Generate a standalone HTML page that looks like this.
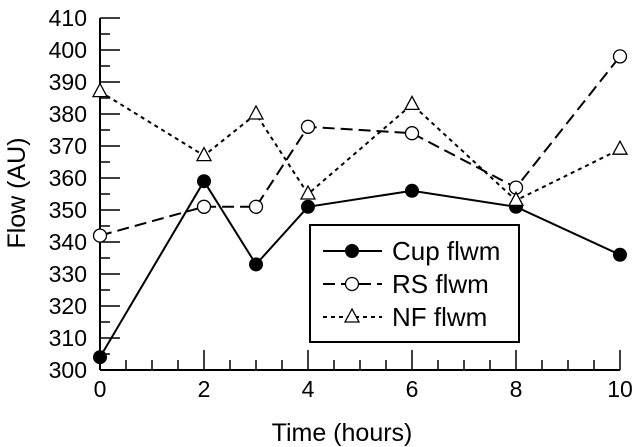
<!DOCTYPE html>
<html><head><meta charset="utf-8"><style>
body{margin:0;background:#fff}
svg{display:block;font-family:"Liberation Sans",sans-serif}
</style></head><body>
<svg width="640" height="447" viewBox="0 0 640 447">
<g id="axes"></g><g id="series"></g><g id="legend"></g>
</svg>
<script>
const xTicks=[0,2,4,6,8,10];
const yTicks=[300,310,320,330,340,350,360,370,380,390,400,410];
const times=[0,2,3,4,6,8,10];
const cup=[304,359,333,351,356,351,336];
const rs=[342,351,351,376,374,357,398];
const nf=[387,367,380,355,383,353,369];
const seriesNames=["Cup flwm","RS flwm","NF flwm"];
const NS="http://www.w3.org/2000/svg";
const X=v=>100+(v-0)*52;
const Y=v=>370-(v-300)*3.2;
function mk(tag,attrs,parent,text){const e=document.createElementNS(NS,tag);for(const k in attrs)e.setAttribute(k,attrs[k]);if(text!=null)e.textContent=text;parent.appendChild(e);return e;}
const ax=document.getElementById('axes');
let l=mk('line',{x1:100,y1:Y(410),x2:100,y2:370,stroke:'#000','stroke-width':2},ax);

l=mk('line',{x1:100,y1:370,x2:X(10),y2:370,stroke:'#000','stroke-width':2},ax);

for(let v=300;v<=410;v+=5){mk('line',{x1:100,y1:Y(v),x2:100+(v%10===0?20:10),y2:Y(v),stroke:'#000','stroke-width':1.5},ax);}
for(let v=0;v<=10;v+=0.5){mk('line',{x1:X(v),y1:370,x2:X(v),y2:370-(v%2===0?20:10),stroke:'#000','stroke-width':1.5},ax);}
yTicks.forEach(v=>{const t=mk('text',{x:87,y:Y(v)+8,'text-anchor':'end','font-size':23},ax,v);});
xTicks.forEach(v=>{const t=mk('text',{x:X(v),y:397,'text-anchor':'middle','font-size':23},ax,v);});
let t=mk('text',{x:342,y:441,'text-anchor':'middle','font-size':25},ax,'Time (hours)');

t=mk('text',{x:0,y:0,'text-anchor':'middle','font-size':25,transform:'translate(25,193) rotate(-90)'},ax,'Flow (AU)');

const sg=document.getElementById('series');
const styles=[{dash:'',m:'dot'},{dash:'12,6',m:'circle'},{dash:'4,4',m:'tri'}];
function marker(kind,x,y,p){
 if(kind==='dot')return mk('circle',{cx:x,cy:y,r:7,fill:'#000'},p);
 if(kind==='circle')return mk('circle',{cx:x,cy:y,r:6.5,fill:'#fff',stroke:'#000','stroke-width':1.3},p);
 return mk('polygon',{points:`${x},${y-8} ${x-7},${y+5} ${x+7},${y+5}`,fill:'#fff',stroke:'#000','stroke-width':1.3},p);
}
[cup,rs,nf].forEach((arr,i)=>{
 const g=mk('g',{},sg);
 const pl=mk('polyline',{points:arr.map((v,j)=>X(times[j])+','+Y(v)).join(' '),fill:'none',stroke:'#000','stroke-width':2,'stroke-dasharray':styles[i].dash},g);
 
 arr.forEach((v,j)=>{const m=marker(styles[i].m,X(times[j]),Y(v),g);});
});
const lg=document.getElementById('legend');
const b=mk('rect',{x:310,y:225,width:209,height:117,fill:'#fff',stroke:'#000','stroke-width':2},lg);

seriesNames.forEach((n,i)=>{
 const y=251+i*33;
 mk('line',{x1:323,y1:y,x2:382,y2:y,stroke:'#000','stroke-width':2,'stroke-dasharray':styles[i].dash},lg);
 marker(styles[i].m,352,y,lg);
 const tt=mk('text',{x:392,y:y+9,'font-size':26},lg,n);
 
});
</script>
</body></html>
